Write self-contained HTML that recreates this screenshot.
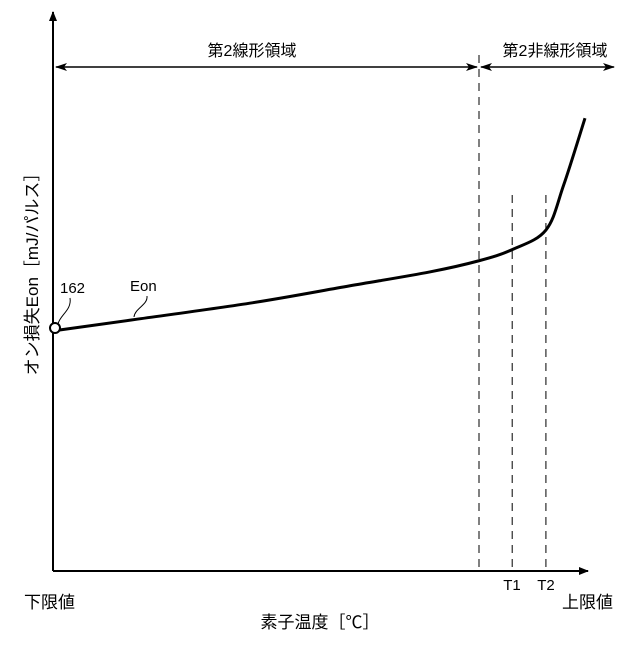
<!DOCTYPE html>
<html><head><meta charset="utf-8"><style>
body{margin:0;background:#fff;}
svg text{font-family:"Liberation Sans","Noto Sans CJK JP",sans-serif;fill:#000;}
</style></head><body>
<svg width="640" height="640" viewBox="0 0 640 640">
<defs>
<marker id="ah" markerWidth="10" markerHeight="8" refX="9" refY="4" orient="auto-start-reverse" markerUnits="userSpaceOnUse"><path d="M0,0 L10,4 L0,8 Z" fill="#000"/></marker>
<marker id="ah2" markerWidth="12" markerHeight="8" refX="11" refY="4" orient="auto-start-reverse" markerUnits="userSpaceOnUse"><path d="M0,0 L12,4 L0,8 L3,4 Z" fill="#000"/></marker>
</defs>
<line x1="53" y1="571" x2="53" y2="12" stroke="#000" stroke-width="2" marker-end="url(#ah)"/>
<line x1="53" y1="571" x2="588" y2="571" stroke="#000" stroke-width="2" marker-end="url(#ah)"/>
<g id="dashes"></g>
<line x1="56" y1="67" x2="477" y2="67" stroke="#000" stroke-width="1.5" marker-start="url(#ah2)" marker-end="url(#ah2)"/>
<line x1="481" y1="67" x2="614" y2="67" stroke="#000" stroke-width="1.5" marker-start="url(#ah2)" marker-end="url(#ah2)"/>
<text x="252" y="56" font-size="16" text-anchor="middle">第2線形領域</text>
<text x="555" y="56" font-size="16" text-anchor="middle">第2非線形領域</text>
<path id="curve" fill="none" stroke="#000" stroke-width="3"/>
<circle cx="55" cy="328" r="5" fill="#fff" stroke="#000" stroke-width="2"/>
<text x="60" y="293" font-size="15">162</text>
<path d="M70,298 C72,310 60,315 58,324" fill="none" stroke="#000" stroke-width="1"/>
<text x="130" y="291" font-size="15">Eon</text>
<path d="M147,296 C148,305 135,308 134,317" fill="none" stroke="#000" stroke-width="1"/>
<text x="512" y="590" font-size="15" text-anchor="middle">T1</text>
<text x="546" y="590" font-size="15" text-anchor="middle">T2</text>
<text x="24" y="608" font-size="17">下限値</text>
<text x="562" y="608" font-size="17">上限値</text>
<text x="320" y="628" font-size="17" text-anchor="middle">素子温度［℃］</text>
<text transform="translate(38,270) rotate(-90)" font-size="17" text-anchor="middle">オン損失Eon［mJ/パルス］</text>
</svg>
<script>
const temps=[0,15,37,55,70,79.2,85.4,91.7,95,99];
const eon=[43,45,48,51,53.5,55.5,57.5,61,69,81];
const dashTemps=[79.2,85.4,91.7];
function xS(t){return 55+t*(585-55)/99;}
function yS(v){return 571-v*(571-12)/100;}
const pts=temps.map((t,i)=>[xS(t),yS(eon[i])]);
let d='M'+pts[0][0]+','+pts[0][1];
for(let i=0;i<pts.length-1;i++){const p0=pts[Math.max(0,i-1)],p1=pts[i],p2=pts[i+1],p3=pts[Math.min(pts.length-1,i+2)];
d+=' C'+(p1[0]+(p2[0]-p0[0])/6)+','+(p1[1]+(p2[1]-p0[1])/6)+' '+(p2[0]-(p3[0]-p1[0])/6)+','+(p2[1]-(p3[1]-p1[1])/6)+' '+p2[0]+','+p2[1];}
document.getElementById('curve').setAttribute('d',d);
const g=document.getElementById('dashes');
dashTemps.forEach((t,i)=>{const l=document.createElementNS('http://www.w3.org/2000/svg','line');


const x=xS(t);l.setAttribute('x1',x);l.setAttribute('x2',x);l.setAttribute('y1',i==0?55:195);l.setAttribute('y2',571);
l.setAttribute('stroke','#000');l.setAttribute('stroke-width','1');l.setAttribute('stroke-dasharray','8,6');g.appendChild(l);});
</script>
</body></html>
